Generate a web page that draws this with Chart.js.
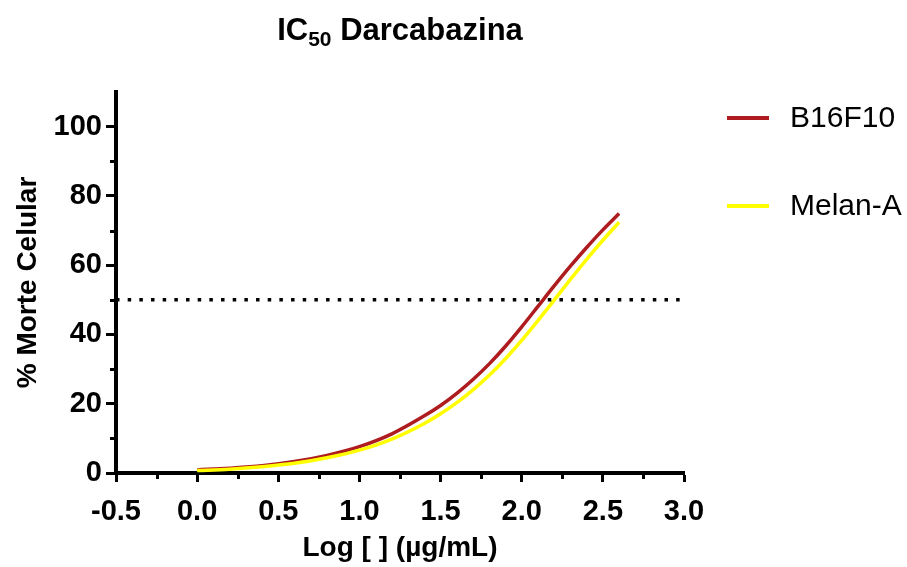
<!DOCTYPE html>
<html>
<head>
<meta charset="utf-8">
<script src="https://cdn.jsdelivr.net/npm/chart.js@4.4.1/dist/chart.umd.min.js"></script>
<style>
  html, body { margin: 0; padding: 0; background: #ffffff; }
  #wrap { width: 907px; height: 567px; position: relative; }
</style>
</head>
<body>
<div id="wrap"><canvas id="c" width="907" height="567"></canvas></div>
<script>
// Log concentration (µg/mL) at which the fitted curves are sampled
const logDose = [0.0, 0.2, 0.4, 0.6, 0.8, 1.0, 1.2, 1.4, 1.5, 1.6, 1.7, 1.8, 1.9, 2.0, 2.1, 2.2, 2.3, 2.4, 2.5, 2.6];
// % cell death, fitted dose-response for each cell line
const b16f10 = [0.9, 1.4, 2.1, 3.3, 5.1, 7.6, 11.3, 16.5, 19.5, 23.0, 27.0, 31.5, 36.6, 42.2, 48.1, 54.0, 59.7, 65.1, 70.2, 74.9];
const melanA = [0.7, 1.1, 1.8, 2.8, 4.4, 6.6, 9.8, 14.3, 17.1, 20.3, 24.0, 28.2, 33.0, 38.3, 44.0, 49.9, 55.9, 61.7, 67.2, 72.4];
// 50 % reference line across the whole x range
const halfLine = [50, 50];
const xRange = [-0.5, 3.0];

const seriesNames = ['B16F10', 'Melan-A'];
const xTicks = [-0.5, 0.0, 0.5, 1.0, 1.5, 2.0, 2.5, 3.0];
const xMinorTicks = [-0.25, 0.25, 0.75, 1.25, 1.75, 2.25, 2.75];
const yTicks = [0, 20, 40, 60, 80, 100];
const yMinorTicks = [10, 30, 50, 70, 90];

const titleMain = 'IC';
const titleSub = '50';
const titleRest = ' Darcabazina';
const xTitle = 'Log [ ] (\u00b5g/mL)';
const yTitle = '% Morte Celular';

const FONT = "'Liberation Sans', Arial, Helvetica, sans-serif";
const RED = '#AE1C1F';
const YELLOW = '#FFFF00';

const pts = (xs, ys) => xs.map((x, i) => ({ x: x, y: ys[i] }));

// Title with a subscript, centred over the plot area
const titlePlugin = {
  id: 'subTitle',
  afterDraw(chart) {
    const ctx = chart.ctx;
    const ca = chart.chartArea;
    const big = 'bold 31px ' + FONT;
    const small = 'bold 21px ' + FONT;
    ctx.save();
    ctx.fillStyle = '#000';
    ctx.textBaseline = 'alphabetic';
    ctx.font = big;
    const w1 = ctx.measureText(titleMain).width;
    const w3 = ctx.measureText(titleRest).width;
    ctx.font = small;
    const w2 = ctx.measureText(titleSub).width;
    const total = w1 + w2 + w3;
    let x = (ca.left + ca.right) / 2 - total / 2;
    const base = 40;
    ctx.textAlign = 'left';
    ctx.font = big;
    ctx.fillText(titleMain, x, base);
    x += w1;
    ctx.font = small;
    ctx.fillText(titleSub, x, base + 6);
    x += w2;
    ctx.font = big;
    ctx.fillText(titleRest, x, base);
    ctx.restore();
  }
};

// Short minor ticks between the labelled ones on both axes
const minorTickPlugin = {
  id: 'minorTicks',
  afterDraw(chart) {
    const ctx = chart.ctx;
    const xs = chart.scales.x, ys = chart.scales.y;
    const left = chart.chartArea.left, bottom = chart.chartArea.bottom;
    ctx.save();
    ctx.strokeStyle = '#000';
    ctx.lineWidth = 3;
    ctx.lineCap = 'butt';
    yMinorTicks.forEach(v => {
      const py = Math.round(ys.getPixelForValue(v)) + 0.5;
      ctx.beginPath();
      ctx.moveTo(left - 6, py);
      ctx.lineTo(left, py);
      ctx.stroke();
    });
    xMinorTicks.forEach(v => {
      const px = Math.round(xs.getPixelForValue(v)) + 0.5;
      ctx.beginPath();
      ctx.moveTo(px, bottom);
      ctx.lineTo(px, bottom + 6);
      ctx.stroke();
    });
    ctx.restore();
  }
};

// Legend on the right: coloured line and series name
const legendPlugin = {
  id: 'sideLegend',
  afterDraw(chart) {
    const ctx = chart.ctx;
    const ca = chart.chartArea;
    const items = chart.data.datasets.filter(d => d.inLegend);
    ctx.save();
    ctx.font = '30px ' + FONT;
    ctx.textBaseline = 'middle';
    ctx.textAlign = 'left';
    items.forEach((d, i) => {
      const y = 118 + i * 88;
      const x0 = ca.right + 43;
      ctx.strokeStyle = d.borderColor;
      ctx.lineWidth = 4;
      ctx.beginPath();
      ctx.moveTo(x0, y);
      ctx.lineTo(x0 + 42, y);
      ctx.stroke();
      ctx.fillStyle = '#000';
      ctx.fillText(d.label, x0 + 63, y + 1);
    });
    ctx.restore();
  }
};

new Chart(document.getElementById('c'), {
  type: 'line',
  data: {
    datasets: [
      {
        label: seriesNames[0],
        inLegend: true,
        data: pts(logDose, b16f10),
        borderColor: RED,
        borderWidth: 3.5,
        pointRadius: 0,
        cubicInterpolationMode: 'monotone',
        fill: false,
        order: 1
      },
      {
        label: seriesNames[1],
        inLegend: true,
        data: pts(logDose, melanA),
        borderColor: YELLOW,
        borderWidth: 3.5,
        pointRadius: 0,
        cubicInterpolationMode: 'monotone',
        fill: false,
        order: 0
      },
      {
        label: 'IC50',
        inLegend: false,
        data: pts(xRange, halfLine),
        borderColor: '#000',
        borderWidth: 3.5,
        borderDash: [3.5, 8.17],
        borderCapStyle: 'butt',
        pointRadius: 0,
        fill: false,
        order: -1
      }
    ]
  },
  options: {
    responsive: false,
    animation: false,
    events: [],
    layout: { padding: { left: 0, right: 223, top: 92, bottom: 0 } },
    plugins: {
      legend: { display: false },
      title: { display: false },
      tooltip: { enabled: false }
    },
    scales: {
      x: {
        type: 'linear',
        min: xRange[0],
        max: xRange[1],
        afterBuildTicks: s => { s.ticks = xTicks.map(v => ({ value: v })); },
        afterFit: s => { s.height = 94; },
        border: { display: true, color: '#000', width: 4 },
        grid: { drawOnChartArea: false, drawTicks: true, tickLength: 9, tickWidth: 3, tickColor: '#000' },
        ticks: {
          color: '#000',
          padding: 13,
          maxRotation: 0,
          autoSkip: false,
          font: { family: FONT, size: 29, weight: 'bold' },
          callback: v => Number(v).toFixed(1)
        },
        title: {
          display: true,
          text: xTitle,
          color: '#000',
          padding: { top: 0, bottom: 2 },
          font: { family: FONT, size: 28, weight: 'bold' }
        }
      },
      y: {
        type: 'linear',
        min: 0,
        max: 110,
        afterBuildTicks: s => { s.ticks = yTicks.map(v => ({ value: v })); },
        afterFit: s => { s.width = 116; },
        border: { display: true, color: '#000', width: 4 },
        grid: { drawOnChartArea: false, drawTicks: true, tickLength: 10, tickWidth: 3, tickColor: '#000' },
        ticks: {
          color: '#000',
          padding: 4,
          autoSkip: false,
          font: { family: FONT, size: 29, weight: 'bold' },
          callback: v => String(v)
        },
        title: {
          display: true,
          text: yTitle,
          color: '#000',
          padding: { top: 11, bottom: 0 },
          font: { family: FONT, size: 28, weight: 'bold' }
        }
      }
    }
  },
  plugins: [titlePlugin, minorTickPlugin, legendPlugin]
});
</script>
</body>
</html>
